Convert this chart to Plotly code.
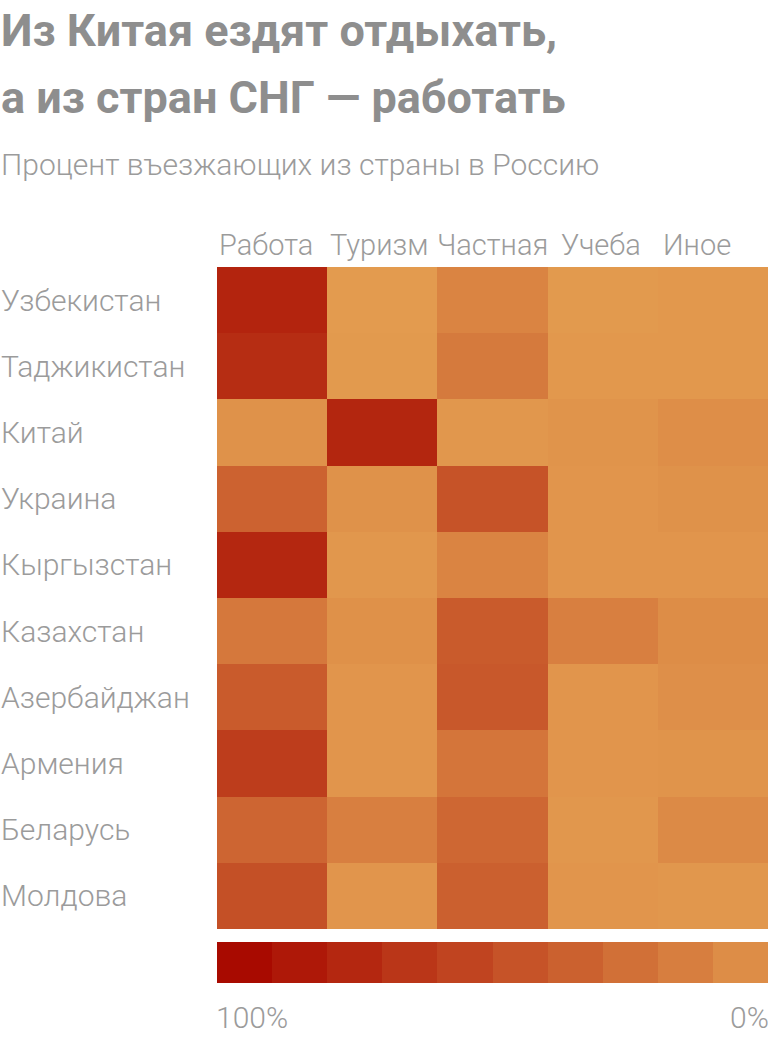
import plotly.graph_objects as go
from plotly.subplots import make_subplots

# данные: процент въезжающих по цели поездки
countries = ["Узбекистан", "Таджикистан", "Китай", "Украина", "Кыргызстан",
             "Казахстан", "Азербайджан", "Армения", "Беларусь", "Молдова"]
purposes = ["Работа", "Туризм", "Частная", "Учеба", "Иное"]
work = [82, 76, 6, 39, 80, 24, 44, 65, 37, 52]
tourism = [0, 1, 81, 6, 3, 7, 4, 4, 19, 4]
private = [16, 23, 3, 50, 16, 44, 46, 26, 36, 41]
study = [1, 2, 5, 4, 4, 19, 4, 4, 3, 4]
other = [2, 2, 9, 6, 4, 10, 8, 5, 12, 3]
legend_steps = [100, 90, 80, 70, 60, 50, 40, 30, 20, 10]
legend_labels = ["100%", "0%"]

z = [[work[i], tourism[i], private[i], study[i], other[i]] for i in range(len(countries))]

scale = [[0, "#E39B4F"], [1, "#A80A00"]]
grey = "#8e8e8e"
light = "#9b9b9b"
W, H = 768, 1038


def px(x):
    return x / W


def py(y):
    return 1 - y / H


fig = make_subplots(rows=2, cols=1)
fig.add_trace(go.Heatmap(z=z, x=purposes, y=countries, colorscale=scale,
                         zmin=0, zmax=100, showscale=False, hoverinfo="skip"),
              row=1, col=1)
fig.add_trace(go.Heatmap(z=[legend_steps], colorscale=scale, zmin=0, zmax=100,
                         showscale=False, hoverinfo="skip"),
              row=2, col=1)

fig.update_layout(
    width=W, height=H,
    margin=dict(l=0, r=0, t=0, b=0),
    paper_bgcolor="white", plot_bgcolor="white",
    font=dict(family="Roboto", color=light),
    xaxis=dict(domain=[px(217), px(768)], visible=False),
    yaxis=dict(domain=[py(929), py(267)], autorange="reversed", visible=False),
    xaxis2=dict(domain=[px(217), px(768)], visible=False),
    yaxis2=dict(domain=[py(983), py(942)], visible=False),
)

label_font = dict(size=30, color=light, weight=300)

for c in countries:
    fig.add_annotation(text=c, xref="paper", yref="y", x=0, y=c, xanchor="left",
                       showarrow=False, xshift=-1, font=label_font)

col_shift = [-6, -3, 0, -2, -16]
for p, s in zip(purposes, col_shift):
    fig.add_annotation(text=p, xref="x", yref="paper", x=p, y=py(264),
                       xanchor="center", yanchor="bottom", showarrow=False,
                       xshift=s, font=dict(size=29, color=light, weight=300))

fig.add_annotation(text="Из Китая ездят отдыхать,", xref="paper", yref="paper",
                   x=0, y=py(59), xanchor="left", yanchor="bottom", showarrow=False,
                   xshift=-1, font=dict(size=45, color=grey, weight=700))
fig.add_annotation(text="а из стран СНГ — работать", xref="paper", yref="paper",
                   x=0, y=py(126), xanchor="left", yanchor="bottom", showarrow=False,
                   xshift=-1, font=dict(size=45, color=grey, weight=700))
fig.add_annotation(text="Процент въезжающих из страны в Россию", xref="paper", yref="paper",
                   x=0, y=py(184), xanchor="left", yanchor="bottom", showarrow=False,
                   xshift=-1, font=dict(size=30, color=light, weight=300))

fig.add_annotation(text=legend_labels[0], xref="paper", yref="paper", x=px(217),
                   y=py(1037), xanchor="left", yanchor="bottom", showarrow=False,
                   xshift=-3, font=label_font)
fig.add_annotation(text=legend_labels[1], xref="paper", yref="paper", x=px(768),
                   y=py(1037), xanchor="right", yanchor="bottom", showarrow=False,
                   xshift=3, font=label_font)

# убрать стандартный отступ body, чтобы картинка начиналась с края окна
fig.write_html("out.html", config={"displayModeBar": False},
               post_script="document.body.style.margin='0';")
